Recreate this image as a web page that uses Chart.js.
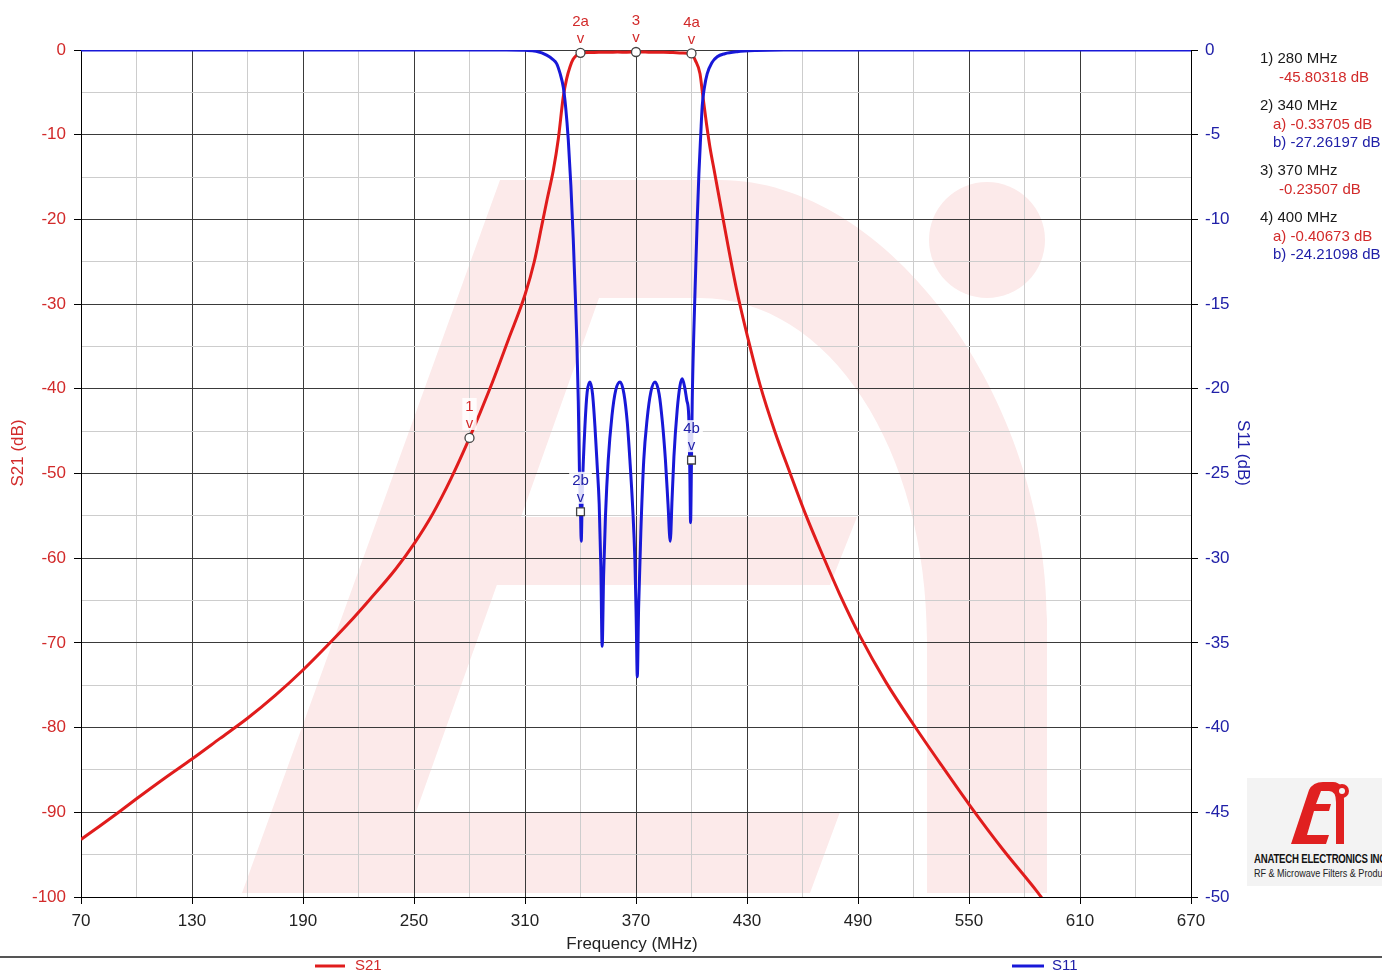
<!DOCTYPE html>
<html><head><meta charset="utf-8">
<script src="https://cdn.jsdelivr.net/npm/chart.js@4/dist/chart.umd.min.js"></script>
<style>
html,body{margin:0;padding:0;background:#fff;overflow:hidden}
#wrap{position:relative;width:1382px;height:972px;font-family:'Liberation Sans',Arial,sans-serif}
#c{position:absolute;left:0;top:0}
.ro{position:absolute;font-size:15px;line-height:16px;white-space:nowrap;color:#1a1a1a}
#logo{position:absolute;left:1247px;top:778px;width:135px;height:108px;background:#f3f3f3;overflow:hidden}
#logo .t1{position:absolute;left:7px;top:73px;font-family:'Liberation Sans',Arial,sans-serif;font-weight:bold;font-size:13px;letter-spacing:-0.3px;white-space:nowrap;color:#111;transform:scaleX(0.74);transform-origin:0 0}
#logo .t2{position:absolute;left:7px;top:89px;font-family:'Liberation Sans',Arial,sans-serif;font-size:10.5px;white-space:nowrap;color:#222;transform:scaleX(0.86);transform-origin:0 0}
</style></head>
<body>
<div id="wrap">
<canvas id="c" width="1382" height="972"></canvas>
<div id="readout"></div>
<div id="logo">
<svg width="135" height="70" style="position:absolute;left:0;top:0">
<path d="M44 66 L62 12 Q66 4 76 4 L86 4 Q97 4 97 22 L97 66 L89 66 L89 24 Q89 13 82 13 L74 13 L69 26 L84 26 L82 33 L67 33 L60 57 L82 57 L79 66 Z" fill="#e02020"/>
<circle cx="95" cy="13" r="7" fill="#e02020"/>
<circle cx="95" cy="13" r="3" fill="#f3f3f3"/>
</svg>
<div class="t1">ANATECH ELECTRONICS INC</div>
<div class="t2">RF &amp; Microwave Filters &amp; Products</div>
</div>
</div>
<script>
// ---------- data ----------
const s21Freq = [70,80,90,100,115,130,145,160,175,190,205,215,226,240,250,260,270,280,291,301,310,315,319,322,325.3,328,330.7,332.5,334.3,336,338,340,345,350,355,360,365,370,375,380,385,390,395,400,402,404.6,406,408.1,410,412.6,417.2,424.4,431.6,437,445,453.2,462,471.2,480,491.1,505,519.9,535,550.5,568,586.6,590];
const s21Db   = [-93.2,-91.65,-90.05,-88.4,-86.0,-83.7,-81.3,-78.9,-76.2,-73.2,-69.9,-67.6,-64.9,-61.3,-58.3,-54.8,-50.6,-45.8,-40.0,-34.2,-28.9,-25.0,-20.8,-17.6,-14.2,-10.5,-5.5,-3.4,-2.0,-1.1,-0.6,-0.337,-0.30,-0.27,-0.28,-0.25,-0.26,-0.235,-0.25,-0.27,-0.26,-0.30,-0.35,-0.407,-1.2,-2.8,-5.2,-8.7,-11.5,-14.6,-20.1,-28.3,-35.0,-39.5,-45.0,-49.9,-55.0,-59.8,-64.2,-69.2,-74.6,-79.6,-84.4,-89.2,-94.3,-99.3,-100.3];

const s11Freq = [70,300,310,316,321.7,325,327.1,329,330.7,332,333.4,334.8,336.1,337.1,338,338.8,339.4,340,340.4,341,342.4,343.6,345.1,346.5,347.8,349,350.1,351,351.7,352.5,353.5,355,357,359,361.4,363.5,365.3,366.7,368.2,369.4,370.1,370.7,371.4,372.6,374.2,376,378,380.3,382.5,384.3,385.9,387.3,388.5,389.5,390.5,392.3,393.8,395,396.3,397.5,398.5,399.1,399.5,400,400.4,401.3,402.2,403.1,404,405,405.8,407,408.5,411,413.9,418,424.7,435,450,670];
const s11Db   = [0,0,-0.02,-0.08,-0.3,-0.55,-0.8,-1.4,-2.2,-3.4,-5.3,-8.0,-11.2,-14.2,-17.1,-20.7,-24.7,-27.26,-29.0,-26.0,-22.2,-20.2,-19.6,-20.3,-22.2,-24.5,-26.8,-30.5,-35.2,-31.0,-27.5,-24.2,-21.6,-20.1,-19.6,-20.3,-22.0,-24.2,-27.0,-30.1,-33.5,-37.0,-33.0,-28.5,-24.2,-21.8,-20.2,-19.6,-20.3,-22.0,-24.2,-26.8,-29.0,-26.5,-24.0,-21.2,-19.8,-19.4,-19.9,-20.7,-21.6,-25.0,-27.9,-24.2,-20.7,-16.5,-13.2,-10.0,-7.3,-5.0,-3.3,-2.2,-1.4,-0.75,-0.4,-0.22,-0.1,-0.03,0,0];

const markerNames = ['1','2','3','4'];
const markerFreq  = [280,340,370,400];
const markerS21   = [-45.80318,-0.33705,-0.23507,-0.40673];
const markerS11   = [null,-27.26197,null,-24.21098];

const xTicks  = {min:70,max:670,step:30,labelStep:60};
const yTicks  = {min:-100,max:0,step:5,labelStep:10};
const y2Ticks = {min:-50,max:0,step:5};

// ---------- colours ----------
const RED='#e01c1c', BLUE='#1818d8', RED_T='#d22a2a', BLUE_T='#2020a8';
const FONT="'Liberation Sans', Arial, sans-serif";

const pts=(fs,vs)=>fs.map((f,i)=>({x:f,y:vs[i]}));
const hasB = markerS11.map(v=>v!==null);
const s21Markers = markerFreq.map((f,i)=>({x:f,y:markerS21[i],lab:markerNames[i]+(hasB[i]?'a':'')}));
const s11Markers = markerFreq.map((f,i)=>hasB[i]?{x:f,y:markerS11[i],lab:markerNames[i]+'b'}:null).filter(Boolean);

// ---------- readout text ----------
(function(){
  const r=document.getElementById('readout');
  let y=50; let html='';
  const fmt=v=>v.toFixed(5)+' dB';
  markerFreq.forEach((f,i)=>{
    html+=`<div class="ro" style="left:1260px;top:${y}px">${markerNames[i]}) ${f} MHz</div>`; y+=19;
    if(hasB[i]){
      html+=`<div class="ro" style="left:1273px;top:${y}px;color:${RED_T}">a) ${fmt(markerS21[i])}</div>`; y+=18;
      html+=`<div class="ro" style="left:1273px;top:${y}px;color:${BLUE_T}">b) ${fmt(markerS11[i])}</div>`; y+=28;
    } else {
      html+=`<div class="ro" style="left:1279px;top:${y}px;color:${RED_T}">${fmt(markerS21[i])}</div>`; y+=28;
    }
  });
  r.innerHTML=html;
})();

// ---------- decorations ----------
const deco={
  id:'deco',
  beforeDraw(chart){
    const c=chart.ctx; c.save();
    c.fillStyle='#fceaea';
    // left leg + arch + bottom bar
    c.beginPath();
    c.moveTo(242,893); c.lineTo(500,180); c.lineTo(720,180);
    c.bezierCurveTo(890,180,1047,400,1047,620);
    c.lineTo(1047,893); c.lineTo(927,893); c.lineTo(927,640);
    c.bezierCurveTo(927,450,830,298,700,298);
    c.lineTo(599,298); c.lineTo(416,812); c.lineTo(840,812); c.lineTo(810,893);
    c.closePath(); c.fill();
    // middle bar
    c.beginPath();
    c.moveTo(520,517); c.lineTo(857,517); c.lineTo(830,585); c.lineTo(496,585); c.closePath(); c.fill();
    // dot
    c.beginPath(); c.arc(987,240,58,0,Math.PI*2); c.fill();
    c.restore();
  },
  afterDraw(chart){
    const c=chart.ctx, a=chart.chartArea, xs=chart.scales.x, ys=chart.scales.y, y2=chart.scales.y2;
    c.save();
    // axis titles
    c.font='17px '+FONT; c.textAlign='center'; c.textBaseline='middle';
    c.fillStyle=RED_T; c.save(); c.translate(18,453); c.rotate(-Math.PI/2); c.fillText('S21 (dB)',0,0); c.restore();
    c.fillStyle=BLUE_T; c.save(); c.translate(1243,453); c.rotate(Math.PI/2); c.fillText('S11 (dB)',0,0); c.restore();
    c.fillStyle='#222'; c.fillText('Frequency (MHz)',(a.left+a.right)/2-4,944);
    // separator
    c.strokeStyle='#555'; c.lineWidth=2; c.beginPath(); c.moveTo(0,957); c.lineTo(1382,957); c.stroke();
    // legend
    c.lineWidth=3;
    c.strokeStyle=RED; c.beginPath(); c.moveTo(315,966); c.lineTo(345,966); c.stroke();
    c.strokeStyle=BLUE; c.beginPath(); c.moveTo(1012,966); c.lineTo(1044,966); c.stroke();
    c.font='15px '+FONT; c.textAlign='left';
    c.fillStyle=RED_T; c.fillText('S21',355,966);
    c.fillStyle=BLUE_T; c.fillText('S11',1052,966);
    // marker labels
    c.font='15px '+FONT; c.textAlign='center';
    const lab=(m,scale,col)=>{
      const px=xs.getPixelForValue(m.x), py=scale.getPixelForValue(m.y);
      const w=c.measureText(m.lab).width+6;
      c.fillStyle='rgba(255,255,255,0.85)'; c.fillRect(px-w/2,py-40,w,32);
      c.fillStyle=col; c.fillText(m.lab,px,py-31); c.fillText('v',px,py-14);
    };
    s21Markers.forEach(m=>lab(m,ys,RED_T));
    s11Markers.forEach(m=>lab(m,y2,BLUE_T));
    c.restore();
  }
};

const isMajor=(v,t)=>Math.abs(((v-t.min)%t.labelStep))<1e-6;

new Chart(document.getElementById('c'),{
  type:'scatter',
  data:{datasets:[
    {label:'S21 markers',data:s21Markers,yAxisID:'y',showLine:false,pointStyle:'circle',pointRadius:4.5,pointBackgroundColor:'#fff',pointBorderColor:'#444',pointBorderWidth:1.3,clip:false,order:0},
    {label:'S11 markers',data:s11Markers,yAxisID:'y2',showLine:false,pointStyle:'rect',pointRadius:5.5,pointBackgroundColor:'#fff',pointBorderColor:'#444',pointBorderWidth:1.3,clip:false,order:0},
    {label:'S11',data:pts(s11Freq,s11Db),yAxisID:'y2',showLine:true,borderColor:BLUE,borderWidth:3,pointRadius:0,cubicInterpolationMode:'monotone',order:1},
    {label:'S21',data:pts(s21Freq,s21Db),yAxisID:'y',showLine:true,borderColor:RED,borderWidth:3,pointRadius:0,cubicInterpolationMode:'monotone',order:2}
  ]},
  options:{
    responsive:false, animation:false, devicePixelRatio:1,
    layout:{padding:{top:50,left:0,right:0,bottom:0}},
    plugins:{legend:{display:false},tooltip:{enabled:false}},
    scales:{
      x:{type:'linear',position:'bottom',min:xTicks.min,max:xTicks.max,
        afterFit:s=>{s.height=75;},
        ticks:{stepSize:xTicks.step,autoSkip:false,maxRotation:0,padding:7,color:'#222',font:{family:FONT,size:17},
          callback:v=>isMajor(v,xTicks)?String(v):''},
        grid:{color:ctx=>isMajor(ctx.tick.value,xTicks)?'#3a3a3a':'#cdcdcd',lineWidth:1,tickLength:7,
          tickColor:ctx=>isMajor(ctx.tick.value,xTicks)?'#000':'rgba(0,0,0,0)'},
        border:{display:true,color:'#000',width:1}},
      y:{type:'linear',position:'left',min:yTicks.min,max:yTicks.max,
        afterFit:s=>{s.width=81;},
        ticks:{stepSize:yTicks.step,autoSkip:false,padding:8,color:RED_T,font:{family:FONT,size:17},
          callback:v=>isMajor(v,yTicks)?String(v):''},
        grid:{color:ctx=>isMajor(ctx.tick.value,yTicks)?'#3a3a3a':'#cdcdcd',lineWidth:1,tickLength:7,
          tickColor:ctx=>isMajor(ctx.tick.value,yTicks)?'#000':'rgba(0,0,0,0)'},
        border:{display:true,color:'#000',width:1}},
      y2:{type:'linear',position:'right',min:y2Ticks.min,max:y2Ticks.max,
        afterFit:s=>{s.width=191;},
        ticks:{stepSize:y2Ticks.step,autoSkip:false,padding:7,color:BLUE_T,font:{family:FONT,size:17}},
        grid:{drawOnChartArea:false,tickLength:7,tickColor:'#000'},
        border:{display:true,color:'#000',width:1}}
    }
  },
  plugins:[deco]
});
</script>
</body></html>
